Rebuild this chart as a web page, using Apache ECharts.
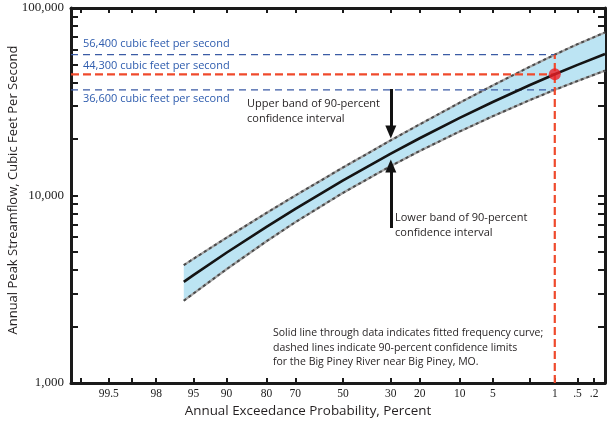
<!DOCTYPE html>
<html><head><meta charset="utf-8">
<script src="https://cdn.jsdelivr.net/npm/echarts@6/dist/echarts.min.js"></script>
<style>html,body{margin:0;padding:0;background:#fff}#c{width:612px;height:422px}</style>
</head><body><div id="c"></div>
<script>
// Annual exceedance probability (fraction) of the plotted curve points
const probs  = [0.96, 0.95, 0.90, 0.80, 0.70, 0.50, 0.30, 0.20, 0.10, 0.05, 0.02, 0.01, 0.005, 0.002];
const fitted = [3465, 3760, 4950, 6810, 8490, 12040, 16720, 20200, 25940, 31530, 38850, 44300, 49760, 56870];
const upper  = [4254, 4594, 5950, 8072, 10000, 14110, 19700, 23950, 31250, 38630, 48670, 56400, 64120, 74110];
const lower  = [2746, 3000, 4043, 5702, 7211, 10340, 14370, 17280, 21970, 26480, 32310, 36600, 40820, 46340];
// x tick marks (percent) and their labels
const xTickPct    = [99.8, 99.5, 99, 98, 95, 90, 80, 70, 50, 30, 20, 10, 5, 2, 1, 0.5, 0.29];
const xTickLabels = ['', '99.5', '', '98', '95', '90', '80', '70', '50', '30', '20', '10', '5', '', '1', '.5', '.2'];
// y ticks
const yTicks = [1000,2000,3000,4000,5000,6000,7000,8000,9000,10000,20000,30000,40000,50000,60000,70000,80000,90000,100000];
const yLabelValues = [1000, 10000, 100000];
// highlighted 1-percent flood
const refProb = 0.01, refQ = 44300, refUpper = 56400, refLower = 36600;
const refTexts = ['56,400 cubic feet per second', '44,300 cubic feet per second', '36,600 cubic feet per second'];

function normInv(p) {
  const a=[-3.969683028665376e+01,2.209460984245205e+02,-2.759285104469687e+02,1.383577518672690e+02,-3.066479806614716e+01,2.506628277459239e+00];
  const b=[-5.447609879822406e+01,1.615858368580409e+02,-1.556989798598866e+02,6.680131188771972e+01,-1.328068155288572e+01];
  const c=[-7.784894002430293e-03,-3.223964580411365e-01,-2.400758277161838e+00,-2.549732539343734e+00,4.374664141464968e+00,2.938163982698783e+00];
  const d=[7.784695709041462e-03,3.224671290700398e-01,2.445134137142996e+00,3.754408661907416e+00];
  const pl=0.02425;
  if (p<pl){const q=Math.sqrt(-2*Math.log(p));return (((((c[0]*q+c[1])*q+c[2])*q+c[3])*q+c[4])*q+c[5])/((((d[0]*q+d[1])*q+d[2])*q+d[3])*q+1);}
  if (p>1-pl){const q=Math.sqrt(-2*Math.log(1-p));return -(((((c[0]*q+c[1])*q+c[2])*q+c[3])*q+c[4])*q+c[5])/((((d[0]*q+d[1])*q+d[2])*q+d[3])*q+1);}
  const q=p-0.5,r=q*q;return (((((a[0]*r+a[1])*r+a[2])*r+a[3])*r+a[4])*r+a[5])*q/(((((b[0]*r+b[1])*r+b[2])*r+b[3])*r+b[4])*r+1);
}
const zOf = p => -normInv(p);   // exceedance probability -> normal deviate
const xs = probs.map(zOf);
const xTickZ = xTickPct.map(v => zOf(v/100));
const xMin = -2.99, xMax = zOf(0.002);
const zRef = zOf(refProb);
const zArrow = zOf(0.30);

function xLabelFmt(v){
  let best=0,bd=1e9;
  xTickZ.forEach((z,i)=>{const d=Math.abs(z-v); if(d<bd){bd=d;best=i;}});
  return xTickLabels[best];
}
const pair = (arr) => xs.map((x,i)=>[x,arr[i]]);

const axisLine = {show:true, onZero:false, lineStyle:{color:'#1a1a1a', width:3}};
const xTick = {show:true, inside:true, length:5, customValues:xTickZ, lineStyle:{color:'#1a1a1a', width:2}};
const yTick = {show:true, inside:true, length:7, customValues:yTicks, lineStyle:{color:'#1a1a1a', width:2}};

const chart = echarts.init(document.getElementById('c'), null, {renderer:'canvas'});
chart.setOption({
  animation:false,
  grid:{left:71, right:7, top:8, bottom:39},
  xAxis:[
    {type:'value', min:xMin, max:xMax, position:'bottom', axisLine, axisTick:xTick, splitLine:{show:false},
     axisLabel:{customValues:xTickZ, formatter:xLabelFmt, margin:5, fontFamily:'Liberation Serif', fontSize:11.5, color:'#222'}},
    {type:'value', min:xMin, max:xMax, position:'top', axisLine, axisTick:xTick, splitLine:{show:false}, axisLabel:{show:false}}
  ],
  yAxis:[
    {type:'log', min:1000, max:100000, logBase:10, position:'left', axisLine, axisTick:yTick, splitLine:{show:false}, minorTick:{show:false},
     axisLabel:{customValues:yLabelValues, formatter:v=>Number(v).toLocaleString('en-US'), margin:7, fontFamily:'Liberation Serif', fontSize:13, color:'#222'}},
    {type:'log', min:1000, max:100000, logBase:10, position:'right', axisLine, axisTick:yTick, splitLine:{show:false}, axisLabel:{show:false}}
  ],
  series:[
    {type:'custom', z:1, silent:true, clip:true, data:[0],
     renderItem:(params, api)=>{
       const pts=[];
       xs.forEach((x,i)=>pts.push(api.coord([x,upper[i]])));
       for(let i=xs.length-1;i>=0;i--) pts.push(api.coord([xs[i],lower[i]]));
       return {type:'polygon', shape:{points:pts}, style:{fill:'#bce4f3', stroke:null}};
     }},
    {type:'line', z:2, data:pair(upper), showSymbol:false, lineStyle:{color:'#a6a6a6', width:2.2}},
    {type:'line', z:3, data:pair(upper), showSymbol:false, lineStyle:{color:'#4a4a4a', width:2, type:[3,3]}},
    {type:'line', z:2, data:pair(lower), showSymbol:false, lineStyle:{color:'#a6a6a6', width:2.2}},
    {type:'line', z:3, data:pair(lower), showSymbol:false, lineStyle:{color:'#4a4a4a', width:2, type:[3,3]}},
    // reference lines
    {type:'line', z:4, data:[[xMin,refUpper],[zRef,refUpper]], showSymbol:false, lineStyle:{color:'#3b5ba5', width:1.3, type:[7,5]}},
    {type:'line', z:4, data:[[xMin,refLower],[zRef,refLower]], showSymbol:false, lineStyle:{color:'#3b5ba5', width:1.3, type:[7,5]}},
    {type:'line', z:5, data:[[xMin,refQ],[zRef,refQ]], showSymbol:false, lineStyle:{color:'#ef4a2c', width:2.2, type:[8,4]}},
    {type:'line', z:5, data:[[zRef,1000],[zRef,refUpper]], showSymbol:false, lineStyle:{color:'#ef4a2c', width:2.2, type:[8,4]}},
    // fitted curve
    {type:'line', z:6, data:pair(fitted), showSymbol:false, lineStyle:{color:'#141414', width:2.6}},
    // 1-percent point
    {type:'scatter', z:7, data:[[zRef,refQ]], symbolSize:12, itemStyle:{color:'#ec1f26'}},
    // arrows
    {type:'line', z:6, data:[], markLine:{silent:true, symbol:['none','triangle'], symbolSize:[11,13], label:{show:false},
      lineStyle:{color:'#111', width:3, type:'solid'},
      data:[
        [{coord:[zArrow,36980]},{coord:[zArrow,21820]}],
        [{coord:[zArrow,6710]},{coord:[zArrow,14360]}]
      ]}}
  ],
  graphic:[
    {type:'text', left:83, top:38, style:{text:refTexts[0], fill:'#2e5cae', font:'11px "Open Sans"'}},
    {type:'text', left:83, top:60, style:{text:refTexts[1], fill:'#2e5cae', font:'11px "Open Sans"'}},
    {type:'text', left:83, top:93, style:{text:refTexts[2], fill:'#2e5cae', font:'11px "Open Sans"'}},
    {type:'text', left:247, top:96, style:{text:'Upper band of 90-percent\nconfidence interval', fill:'#231f20', font:'11px "Open Sans"', lineHeight:15}},
    {type:'text', left:395, top:210, style:{text:'Lower band of 90-percent\nconfidence interval', fill:'#231f20', font:'11px "Open Sans"', lineHeight:15}},
    {type:'text', left:273, top:326, style:{text:'Solid line through data indicates fitted frequency curve;\ndashed lines indicate 90-percent confidence limits\nfor the Big Piney River near Big Piney, MO.', fill:'#231f20', font:'10.5px "Open Sans"', lineHeight:14.5}},
    {type:'text', x:13, y:190, rotation:Math.PI/2, style:{text:'Annual Peak Streamflow, Cubic Feet Per Second', fill:'#231f20', font:'13px "Open Sans"', align:'center', verticalAlign:'middle'}},
    {type:'text', x:308, y:411, style:{text:'Annual Exceedance Probability, Percent', fill:'#231f20', font:'13.4px "Open Sans"', align:'center', verticalAlign:'middle'}}
  ]
});
</script></body></html>
